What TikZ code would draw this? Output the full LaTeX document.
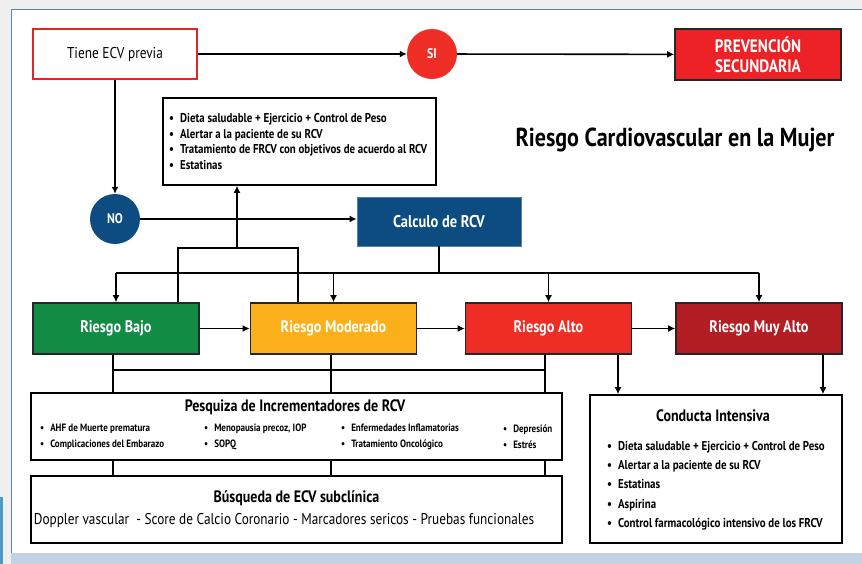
\documentclass[tikz,border=0pt]{standalone}
\usepackage{fontspec}
\setmainfont{PT Sans}[FakeStretch=0.85]
\usepackage{tikz}
\usetikzlibrary{arrows.meta,positioning,calc}
\definecolor{ecvred}{HTML}{E42528}
\definecolor{sired}{HTML}{EE2E24}
\definecolor{prevred}{HTML}{EC2227}
\definecolor{navy}{HTML}{0D4C80}
\definecolor{riskgreen}{HTML}{128B45}
\definecolor{riskamber}{HTML}{FBAF1B}
\definecolor{riskred}{HTML}{EE2E24}
\definecolor{riskdark}{HTML}{B31E24}
\definecolor{framegray}{HTML}{6483A8}
\definecolor{outergray}{HTML}{EFEFEF}
\definecolor{bandblue}{HTML}{C3D3E6}
\definecolor{sideblue}{HTML}{4E9AC7}
\newcommand{\bul}{\textbullet\hspace{6pt}}
\tikzset{
  >={Latex[length=7pt,width=7pt]},
  flowline/.style={line width=1.6pt,draw=black},
  flowarrow/.style={->,flowline},
  previabox/.style={draw=ecvred,line width=2.4pt,fill=white,
                    minimum width=164pt,minimum height=50pt,
                    font=\fontsize{15.7}{18}\selectfont},
  choice/.style={circle,minimum size=50pt,inner sep=0pt,text=white,
                 font=\fontsize{14}{16}\selectfont\bfseries},
  riskbox/.style={draw=black!85,line width=1.6pt,align=center,text=white,
                  minimum width=166pt,minimum height=51pt,
                  font=\fontsize{16.7}{19}\selectfont\bfseries},
  plainbox/.style={draw=black,line width=1.6pt,fill=white},
  headtext/.style={inner sep=0pt,font=\fontsize{16.5}{18}\selectfont\bfseries},
  listtext/.style={inner sep=0pt,anchor=west,align=left,
                   font=\fontsize{12.8}{15.5}\selectfont\bfseries},
  smalllist/.style={inner sep=0pt,anchor=west,align=left,
                    font=\fontsize{10.6}{16}\selectfont\bfseries},
}
\begin{document}
\begin{tikzpicture}[x=1pt,y=-1pt]
  \useasboundingbox (0,0) rectangle (862,564);
  % page frame
  \fill[outergray] (0,0) rectangle (862,564);
  \fill[white] (11,9) rectangle (862,553);
  \fill[bandblue] (11,553) rectangle (862,564);
  \fill[sideblue] (0,497) rectangle (3,564);
  \draw[framegray,line width=0.8pt] (11,553) -- (11,9) -- (862,9);

  % decision
  \node[previabox] (previa) at (115,54) {Tiene ECV previa};
  \node[choice,fill=sired] (si) at (432,54) {SI};
  \node[riskbox,fill=prevred,font=\fontsize{18}{20}\selectfont\bfseries]
    (secundaria) at (758,54.5) {PREVENCIÓN\\SECUNDARIA};
  \node[choice,fill=navy] (no) at (115,219) {NO};
  \node[riskbox,fill=navy,draw=navy!70,line width=0.8pt,
        minimum width=164pt,minimum height=49pt,
        font=\fontsize{17}{19}\selectfont\bfseries] (calculo) at (439,221.5) {Calculo de RCV};

  \node[plainbox,minimum width=273pt,minimum height=87pt] (medidas) at (299.5,141.5) {};
  \node[listtext] (medidastxt) at (169,141.5)
    {\bul Dieta saludable + Ejercicio + Control de Peso\\
     \bul Alertar a la paciente de su RCV\\
     \bul Tratamiento de FRCV con objetivos de acuerdo al RCV\\
     \bul Estatinas};
  \node[inner sep=0pt,font=\fontsize{26}{28}\selectfont\bfseries] (titulo) at (675,140)
    {Riesgo Cardiovascular en la Mujer};

  % risk levels
  \foreach \name/\txt/\col/\x in {bajo/Riesgo Bajo/riskgreen/116,
      moderado/Riesgo Moderado/riskamber/333.5,
      alto/Riesgo Alto/riskred/548.5,
      muyalto/Riesgo Muy Alto/riskdark/759}{
    \node[riskbox,fill=\col] (\name) at (\x,328.5) {\txt};
  }

  % lower boxes
  \node[plainbox,minimum width=531pt,minimum height=67pt] (pesquiza) at (296.5,426.5) {};
  \node[headtext] (pesqtitulo) at (295,407) {Pesquiza de Incrementadores de RCV};
  \node[smalllist] (pq1) at (40,437) {\bul AHF de Muerte prematura\\\bul Complicaciones del Embarazo};
  \node[smalllist] (pq2) at (204,437) {\bul Menopausia precoz, IOP\\\bul SOPQ};
  \node[smalllist] (pq3) at (341,437) {\bul Enfermedades Inflamatorias\\\bul Tratamiento Oncológico};
  \node[smalllist] (pq4) at (503,437) {\bul Depresión\\\bul Estrés};

  \node[plainbox,minimum width=531pt,minimum height=67pt] (busqueda) at (296.5,509.5) {};
  \node[headtext] (busqtitulo) at (296.5,498) {Búsqueda de ECV subclínica};
  \node[inner sep=0pt,font=\fontsize{15.6}{18}\selectfont] (busqtxt) at (284,521)
    {Doppler vascular~ - Score de Calcio Coronario - Marcadores sericos - Pruebas funcionales};

  \node[plainbox,minimum width=252pt,minimum height=148pt] (conducta) at (716,469) {};
  \node[headtext] (condtitulo) at (713,416) {Conducta Intensiva};
  \node[listtext,font=\fontsize{12.8}{19.3}\selectfont\bfseries] (condtxt) at (607,485.5)
    {\bul Dieta saludable + Ejercicio + Control de Peso\\
     \bul Alertar a la paciente de su RCV\\
     \bul Estatinas\\
     \bul Aspirina\\
     \bul Control farmacológico intensivo de los FRCV};

  % connectors
  \draw[flowarrow] (previa) -- (si);
  \draw[flowarrow] (si) -- (secundaria);
  \draw[flowarrow] (previa) -- (no);
  \draw[flowarrow] (no) -- (calculo.west |- no);

  \coordinate (ja) at (178,248);
  \coordinate (jb) at (298,248);
  \coordinate (jc) at (237,248);
  \draw[flowline] (bajo.north -| ja) -- (ja) -- (jb) -- (moderado.north -| jb);
  \draw[flowarrow] (jc) -- (medidas.south -| jc);

  \coordinate (bus) at (439,273);
  \draw[flowline] (calculo.south) -- (bus);
  \draw[flowline] (bajo.north |- bus) -- (muyalto.north |- bus);
  \foreach \n in {bajo,moderado,alto,muyalto}{
    \draw[flowarrow] (\n.north |- bus) -- (\n.north);
  }
  \foreach \a/\b in {bajo/moderado,moderado/alto,alto/muyalto}{
    \draw[flowarrow] (\a) -- (\b);
  }

  \coordinate (c1) at (113,370);
  \coordinate (c2) at (331,370);
  \coordinate (c3) at (545,370);
  \draw[flowline] (c1) -- (c3);
  \draw[flowline] (bajo.south -| c1) -- (pesquiza.north -| c1);
  \draw[flowline] (moderado.south -| c2) -- (pesquiza.north -| c2);
  \draw[flowline] (alto.south -| c3) -- (pesquiza.north -| c3);
  \foreach \c in {c1,c2,c3}{
    \draw[flowline] (pesquiza.south -| \c) -- (busqueda.north -| \c);
  }

  \coordinate (ka) at (618,370);
  \coordinate (kb) at (823,370);
  \draw[flowarrow] (alto.south -| ka) -- (conducta.north -| ka);
  \draw[flowarrow] (muyalto.south -| kb) -- (conducta.north -| kb);
\end{tikzpicture}
\end{document}
